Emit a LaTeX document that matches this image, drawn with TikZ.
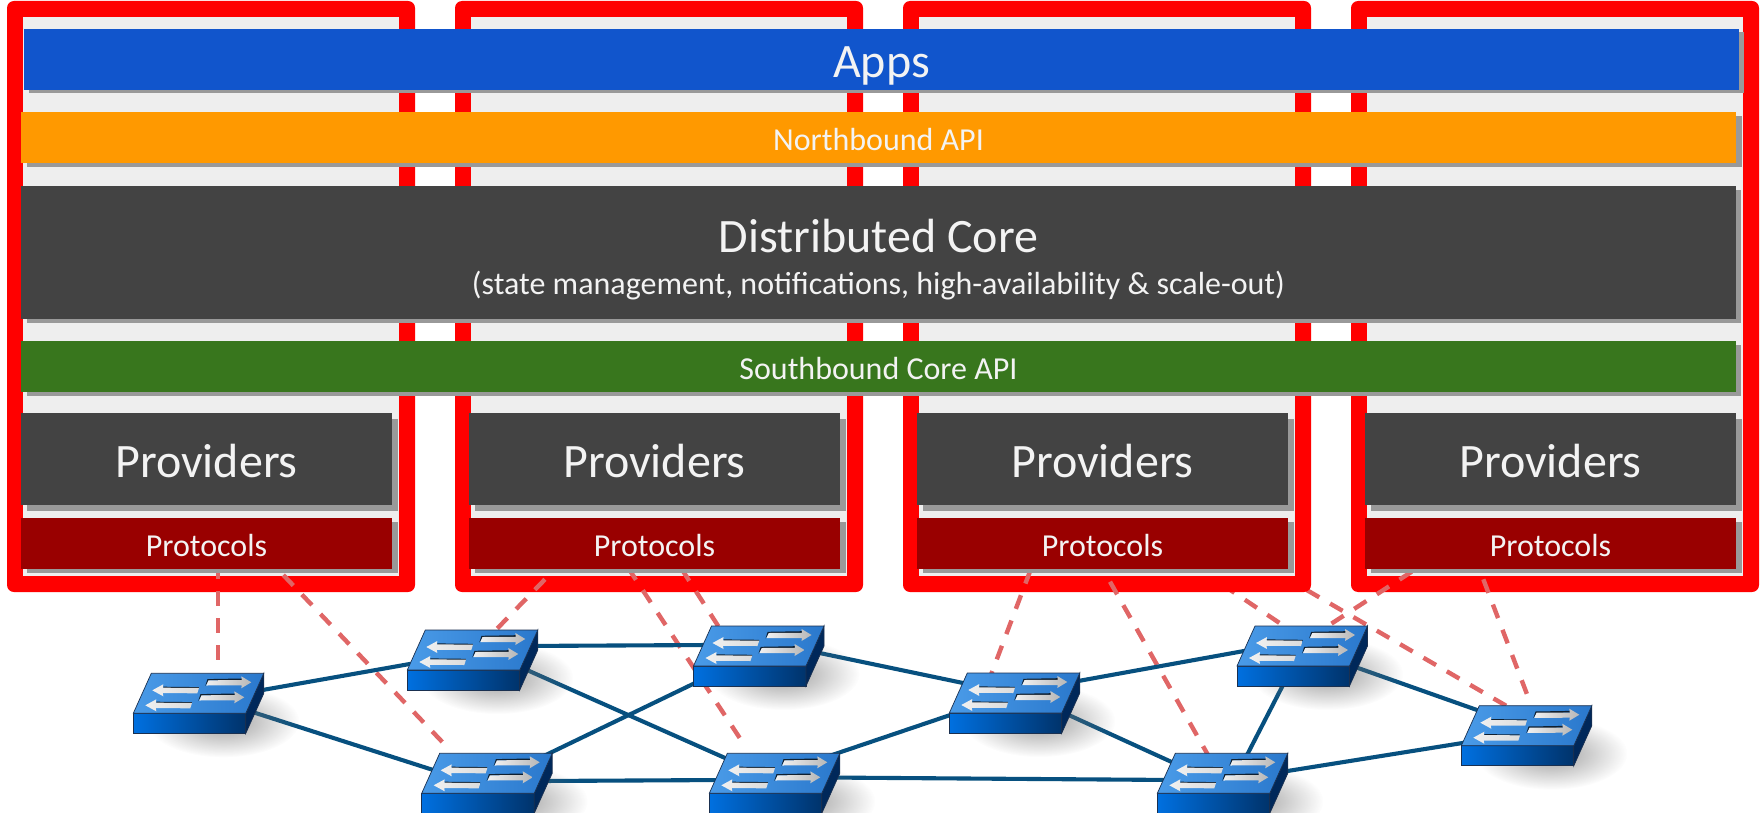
\documentclass[tikz,border=0pt]{standalone}
\usepackage{fontspec}
\setmainfont{Carlito}
\usetikzlibrary{calc,shadings,fadings}
\definecolor{appblue}{HTML}{1155CC}
\definecolor{nborange}{HTML}{FF9900}
\definecolor{coregray}{HTML}{434343}
\definecolor{sbgreen}{HTML}{38761D}
\definecolor{protred}{HTML}{990000}
\definecolor{shadowgray}{HTML}{999999}
\definecolor{framefill}{HTML}{EEEEEE}
\definecolor{linkblue}{HTML}{07507F}
\definecolor{dashred}{HTML}{E06666}
\definecolor{labelwhite}{HTML}{F3F3F3}
\definecolor{sideA}{HTML}{0070E0}
\definecolor{sideB}{HTML}{00336B}
\definecolor{sideC}{HTML}{00285A}
\definecolor{topA}{HTML}{4A9BE8}
\definecolor{topM}{HTML}{70B4FF}
\definecolor{topB}{HTML}{2A78CC}
\definecolor{swedge}{HTML}{1A3050}
\definecolor{arrowdark}{HTML}{102030}
\definecolor{shadowtone}{HTML}{6E6E6E}
\tikzfading[name=swfade,inner color=transparent!0,outer color=transparent!100]
\pgfdeclarelayer{ctrlback}
\pgfdeclarelayer{frames}
\pgfdeclarelayer{ctrlfront}
\pgfdeclarelayer{links}
\pgfdeclarelayer{shadows}
\pgfdeclarelayer{switches}
\pgfsetlayers{ctrlback,frames,ctrlfront,links,shadows,switches,main}
\newcommand{\lowered}[2]{\raisebox{-#1pt}[\height][\depth]{#2}}
\tikzset{
  bar/.style={anchor=north west,inner sep=0pt,outer sep=0pt,text=labelwhite,align=center},
  barshadow/.style={fill=shadowgray,draw=none},
  link/.style={draw=linkblue,line width=4.1pt},
  ctrl/.style={draw=dashred,line width=4.4pt,dash pattern=on 14.5pt off 12.5pt},
  swnode/.style={inner sep=0pt,outer sep=0pt,minimum size=1pt},
  swface/.style={draw=swedge,line width=.7pt},
}
\newcommand{\rarrow}[2]{% tail x, centre y
  \fill[arrowdark] ({#1},{#2+3.5}) -- ({#1+2.2},{#2-3.2}) -- ({#1+37},{#2-3.8}) -- ({#1+37},{#2-2}) -- ({#1+3.5},{#2-1.8}) -- cycle;
  \shade[left color=black!6,right color=black!28] ({#1+1},{#2+3.2}) -- ({#1+3.2},{#2-2}) -- ({#1+36.5},{#2-2.2}) -- ({#1+36},{#2-6}) -- ({#1+46},{#2}) -- ({#1+36},{#2+6}) -- ({#1+36.5},{#2+3}) -- cycle;
}
\newcommand{\larrow}[2]{% tip x, centre y
  \fill[arrowdark] ({#1+11},{#2-3.6}) -- ({#1+46.5},{#2-3.2}) -- ({#1+46.5},{#2-2}) -- ({#1+11},{#2-2.2}) -- cycle;
  \shade[left color=black!6,right color=black!14] ({#1},{#2}) -- ({#1+11},{#2-6}) -- ({#1+10.5},{#2-2.6}) -- ({#1+46.7},{#2-2.4}) -- ({#1+45},{#2+3}) -- ({#1+10.5},{#2+2.8}) -- ({#1+11},{#2+6}) -- cycle;
}
\newcommand{\swi}[2]{% front-left-top x, y
  \begin{pgfonlayer}{shadows}
    \fill[shadowtone,opacity=.68,path fading=swfade] ({#1+90},{#2+8}) ellipse (76 and 36);
  \end{pgfonlayer}
  \begin{pgfonlayer}{switches}
  \begin{scope}[shift={(#1,#2)}]
    \path[left color=sideA,right color=sideB,swface] (0,0) -- (112.5,0) -- (112.5,20) -- (0,20) -- cycle;
    \path[fill=sideC,swface] (112.5,0) -- (130.5,-40) -- (130.5,-20) -- (112.5,20) -- cycle;
    \path[left color=topA,middle color=topM,right color=topB,swface] (0,0) -- (18,-40) -- (130.5,-40) -- (112.5,0) -- cycle;
    \rarrow{72}{-31}
    \rarrow{65}{-16}
    \larrow{19}{-23}
    \larrow{12}{-8}
  \end{scope}
  \end{pgfonlayer}
}
\begin{document}
\begin{tikzpicture}[x=1pt,y=-1pt]
\useasboundingbox (0,0) rectangle (1763,813);
\begin{pgfonlayer}{ctrlback}
\fill[white] (0,0) rectangle (1763,813);
\end{pgfonlayer}
% frames
\begin{pgfonlayer}{frames}
\foreach \dx in {0,448,896,1344} {
  \fill[red,rounded corners=7pt] ({7+\dx},1) rectangle ({415+\dx},592);
  \fill[framefill] ({23+\dx},17) rectangle ({399+\dx},576);
}
\end{pgfonlayer}
% switch anchors
\node[swnode] (s1) at (198,693) {};
\node[swnode] (s2) at (472,650) {};
\node[swnode] (s3) at (759,646) {};
\node[swnode] (s4) at (487,773) {};
\node[swnode] (s5) at (774,773) {};
\node[swnode] (s6) at (1014,693) {};
\node[swnode] (s7) at (1302,646) {};
\node[swnode] (s8) at (1222,773) {};
\node[swnode] (s9) at (1526,726) {};
% switches
\swi{133.3}{713.3}
\swi{407.3}{670}
\swi{693.5}{666}
\swi{421.7}{793.3}
\swi{709.3}{793.3}
\swi{949.3}{713}
\swi{1237}{666}
\swi{1157.3}{793.3}
\swi{1461.3}{745.7}
% bars
\fill[barshadow] (29,32) rectangle (1744,93);
\node[bar,fill=appblue,minimum width=1715pt,minimum height=61pt,font=\fontsize{48}{48}\selectfont] (apps) at (24,29) {\lowered{6}{Apps}};
\fill[barshadow] (27,116) rectangle (1742,167);
\node[bar,fill=nborange,minimum width=1715pt,minimum height=51pt,font=\fontsize{32}{32}\selectfont] (nb) at (21,112) {\lowered{2.2}{Northbound API}};
\fill[barshadow] (27,190) rectangle (1741,323);
\node[bar,fill=coregray,minimum width=1715pt,minimum height=133pt] (core) at (21,186) {};
\node[inner sep=0pt,text=labelwhite,align=center] (coretext) at ([shift={(0,7)}]core.center) {\fontsize{48}{48}\selectfont Distributed Core\\[18pt]\fontsize{32}{32}\selectfont (state management, notifications, high-availability \& scale-out)};
\fill[barshadow] (27,345) rectangle (1741,396);
\node[bar,fill=sbgreen,minimum width=1715pt,minimum height=51pt,font=\fontsize{32}{32}\selectfont] (sb) at (21,341) {\lowered{2.2}{Southbound Core API}};
\foreach \i/\dx in {1/0,2/448,3/896,4/1344} {
  \fill[barshadow] ({27+\dx},419) rectangle ({398+\dx},511);
  \node[bar,fill=coregray,minimum width=371pt,minimum height=92pt,font=\fontsize{48}{48}\selectfont] (prov\i) at ({21+\dx},413) {\lowered{2.2}{Providers}};
  \fill[barshadow] ({27+\dx},522) rectangle ({398+\dx},573);
  \node[bar,fill=protred,minimum width=371pt,minimum height=51pt,font=\fontsize{32}{32}\selectfont] (prot\i) at ({21+\dx},518) {\lowered{2.2}{Protocols}};
}
% control connectors
\begin{pgfonlayer}{ctrlfront}
\foreach \a/\ax/\ay/\b/\bx/\by in {
  prot1/197/-5/s1/20/-32,
  prot1/262.3/6/s4/-38.5/-24.5,
  prot2/76/10.3/s2/18/-14,
  prot2/159/-1.3/s5/-29/-27,
  prot2/212.4/-0.4/s3/-37/-14,
  prot3/113.5/1/s6/-25/-13,
  prot3/193/12.7/s8/-14/-18,
  prot4/46.7/2.7/s7/18/-15,
  prot4/118.3/10.3/s9/3/-26.5} {
  \draw[ctrl] ([shift={(\ax,\ay)}]\a.south west) -- ([shift={(\bx,\by)}]\b.center);
}
\end{pgfonlayer}
\begin{pgfonlayer}{ctrlback}
\foreach \a/\ax/\ay/\b/\bx/\by in {
  prot3/305.4/15.7/s7/-12/-16,
  prot3/389.7/21/s9/-16/-18} {
  \draw[ctrl] ([shift={(\ax,\ay)}]\a.south west) -- ([shift={(\bx,\by)}]\b.center);
}
\end{pgfonlayer}
% links
\begin{pgfonlayer}{links}
\foreach \a/\ax/\ay/\b/\bx/\by in {
  s1/42/1/s2/-47/11.3,
  s1/42/15/s4/-42/0.8,
  s2/48/-4/s3/-49/-1,
  s2/43/14.7/s5/-39/-10.6,
  s3/-59/34.6/s4/53/-15.2,
  s3/51/5/s6/-39/-7.5,
  s4/53/8/s5/-49/7,
  s5/51/-15.6/s6/-54/18.7,
  s5/51/4.5/s8/-47/7,
  s6/46/-8.7/s7/-47/3,
  s6/36/13.5/s8/-42/-7.2,
  s7/-12/25.4/s8/18/-4.4,
  s7/43/17.4/s9/-36/-11.4,
  s8/53/0/s9/-51/15} {
  \draw[link] ([shift={(\ax,\ay)}]\a.center) -- ([shift={(\bx,\by)}]\b.center);
}
\end{pgfonlayer}
\end{tikzpicture}
\end{document}
